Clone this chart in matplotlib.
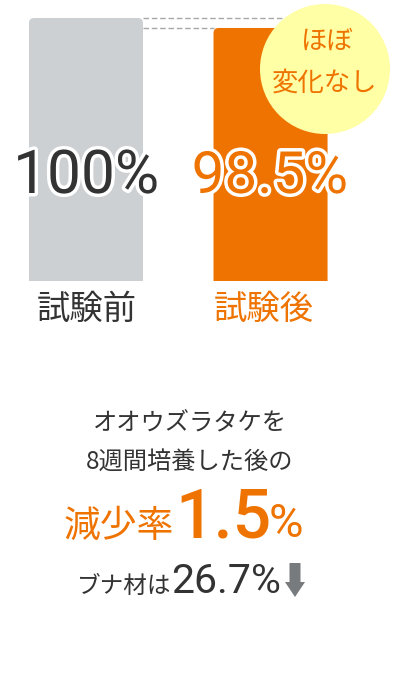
import matplotlib.pyplot as plt
import matplotlib.patheffects as pe
from matplotlib.patches import FancyBboxPatch, Circle, FancyArrow
from matplotlib.transforms import IdentityTransform

# data
labels = ['試験前', '試験後']
values = [100, 98.5]
value_text = ['100%', '98.5%']
decrease = '1.5'
beech = '26.7%'

W, H = 401, 673
ORANGE = '#ee7300'
GRAY_BAR = '#cdd0d3'
DARK = '#333333'
JP = ['Noto Sans CJK JP', 'DejaVu Sans']
NUM = ['Roboto', 'Noto Sans CJK JP']

plt.rcParams['font.family'] = JP

fig = plt.figure(figsize=(W / 100, H / 100), dpi=100)
fig.patch.set_facecolor('white')


def fx(x):
    return x / W


def fy(y):
    return 1 - y / H


# bar axes covers pixel rows 0..281
ax = fig.add_axes([0, fy(281), 1, 281 / H])
ax.set_xlim(-0.466, 1.707)
ax.set_ylim(60.5, 102.7)
ax.axis('off')

colors = [GRAY_BAR, ORANGE]
w = 0.618
for i, v in enumerate(values):
    bottom = 55
    p = FancyBboxPatch((i - w / 2, bottom), w, v - bottom,
                       boxstyle='round,pad=0,rounding_size=0.028',
                       mutation_aspect=27.7, fc=colors[i], ec='none',
                       zorder=2, clip_on=True)
    ax.add_patch(p)

# dashed guide lines
ax.hlines(values[0], w / 2, 1.3, colors='#a8a8a8', linestyles=(0, (4, 2)),
          linewidth=1, zorder=1)
ax.hlines(values[1], w / 2, 1 - w / 2, colors='#a8a8a8', linestyles=(0, (4, 2)),
          linewidth=1, zorder=1)

# bubble
circ = Circle((325, H - 69), 65, transform=IdentityTransform(),
              fc='#ffffa5', ec='none', zorder=5)
fig.add_artist(circ)
fig.text(fx(327), fy(41), 'ほぼ', ha='center', va='center', fontsize=19,
         color=ORANGE, zorder=6)
fig.text(fx(325), fy(83), '変化なし', ha='center', va='center', fontsize=19,
         color=ORANGE, zorder=6)

# value labels on bars
stroke = [pe.withStroke(linewidth=5, foreground='white')]
txt_colors = [DARK, ORANGE]
centers = [86, 270]
sizes = [43.5, 42]
for i in range(2):
    fig.text(fx(centers[i]), fy(193), value_text[i], ha='center', va='baseline',
             fontsize=sizes[i], color=txt_colors[i], family=NUM,
             path_effects=stroke, zorder=7)
    fig.text(fx([87, 264][i]), fy(309), labels[i], ha='center', va='center',
             fontsize=24, color=txt_colors[i], zorder=7)

# lower text block
fig.text(fx(190), fy(424), 'オオウズラタケを', ha='center', va='center',
         fontsize=17.5, color=DARK)
fig.text(fx(190), fy(462), '8週間培養した後の', ha='center', va='center',
         fontsize=17.5, color=DARK)

fig.text(fx(64), fy(537), '減少率', ha='left', va='baseline', fontsize=26.5,
         color=ORANGE)
fig.text(fx(175), fy(537), decrease, ha='left', va='baseline', fontsize=49,
         color=ORANGE, family=NUM, fontweight='medium')
fig.text(fx(269), fy(537), '%', ha='left', va='baseline', fontsize=34,
         color=ORANGE, family=NUM)

fig.text(fx(77), fy(593), 'ブナ材は', ha='left', va='baseline', fontsize=17,
         color=DARK)
fig.text(fx(171), fy(593), beech, ha='left', va='baseline', fontsize=29.5,
         color=DARK, family=NUM)

arrow = FancyArrow(295, H - 563, 0, -34, width=11, head_width=20,
                   head_length=15, length_includes_head=True,
                   transform=IdentityTransform(), fc='#777b7d', ec='none')
fig.add_artist(arrow)

fig.savefig('out.png', dpi=100, facecolor='white')
